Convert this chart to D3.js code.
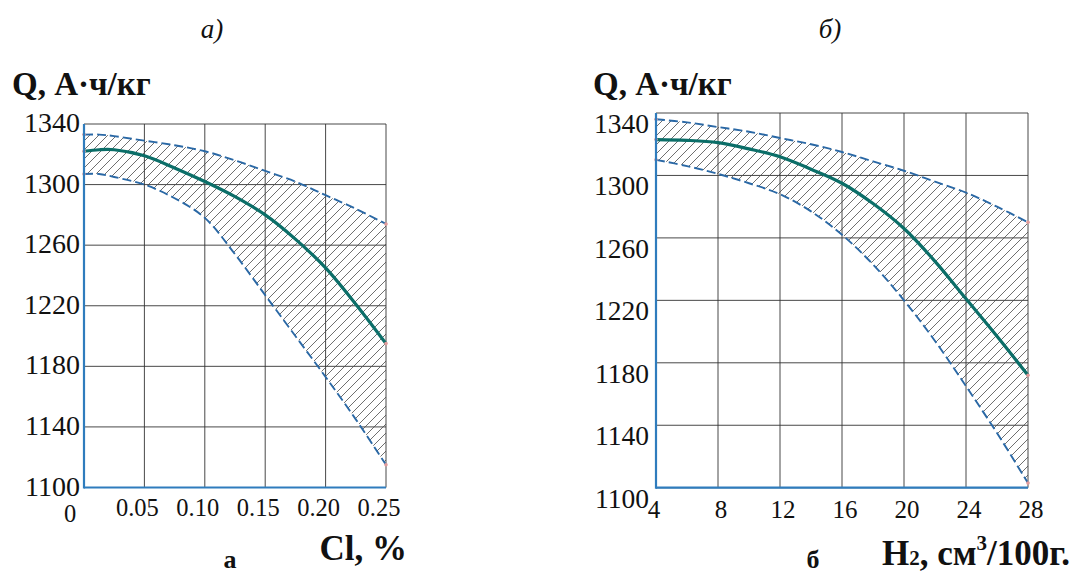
<!DOCTYPE html>
<html>
<head>
<meta charset="utf-8">
<script src="https://cdn.jsdelivr.net/npm/d3@7"></script>
<style>
  html, body { margin: 0; padding: 0; background: #fff; }
  svg { display: block; }
  text { font-family: "Liberation Serif", "Times New Roman", serif; fill: #111; }
</style>
</head>
<body>
<svg id="chart" width="1072" height="574"></svg>
<script>
// ---- Panel а: capacity vs chlorine content ----
const clPercent = [0, 0.0125, 0.025, 0.05, 0.075, 0.10, 0.125, 0.15, 0.175, 0.20, 0.225, 0.25];
const clMean    = [1322, 1323, 1323, 1319, 1311, 1302, 1292, 1280, 1264, 1245, 1221, 1195];
const clUpper   = [1333, 1333, 1332, 1329, 1326, 1322, 1316, 1309, 1302, 1293, 1284, 1274];
const clLower   = [1307, 1307, 1305, 1300, 1291, 1278, 1254, 1227, 1200, 1173, 1145, 1115];
const clTicks   = [0, 0.05, 0.10, 0.15, 0.20, 0.25];
const clTickLabels = ["0", "0.05", "0.10", "0.15", "0.20", "0.25"];

// ---- Panel б: capacity vs hydrogen content ----
const h2Content = [4, 6, 8, 10, 12, 14, 16, 18, 20, 22, 24, 26, 28];
const h2Mean    = [1323, 1322.5, 1321, 1317, 1312, 1304, 1295, 1282, 1266, 1245, 1221, 1197, 1172];
const h2Upper   = [1336, 1334, 1331, 1328, 1324, 1320, 1315, 1309, 1303, 1296, 1289, 1280, 1270];
const h2Lower   = [1310, 1306, 1301, 1295, 1288, 1277, 1262, 1243, 1220, 1194, 1165, 1135, 1103];
const h2Ticks   = [4, 8, 12, 16, 20, 24, 28];

// ---- Shared capacity axis ----
const qTicks = [1100, 1140, 1180, 1220, 1260, 1300, 1340];

const svg = d3.select("#chart");
const AXIS_BLUE = "#2f7cbd";
const CURVE_TEAL = "#0b6e68";
const DASH_BLUE = "#2a68a5";

// hatching used for the spread band
const defs = svg.append("defs");
const pat = defs.append("pattern")
  .attr("id", "hatch")
  .attr("patternUnits", "userSpaceOnUse")
  .attr("width", 9).attr("height", 9);
pat.append("path")
  .attr("d", "M-2,2 L2,-2 M0,9 L9,0 M7,11 L11,7")
  .attr("stroke", "#4a4a4a").attr("stroke-width", 0.8);

function panel(cfg) {
  const g = svg.append("g");
  const x = d3.scaleLinear().domain(cfg.xDomain).range([cfg.left, cfg.right]);
  const y = d3.scaleLinear().domain([1100, 1340]).range([cfg.bottom, cfg.top]);

  // grid
  g.append("g").selectAll("line").data(cfg.xTicks).join("line")
    .attr("x1", d => x(d)).attr("x2", d => x(d))
    .attr("y1", y(1100)).attr("y2", y(1340))
    .attr("stroke", "#333").attr("stroke-width", 0.9);
  g.append("g").selectAll("line").data(qTicks).join("line")
    .attr("x1", x(cfg.xDomain[0])).attr("x2", x(cfg.xDomain[1]))
    .attr("y1", d => y(d)).attr("y2", d => y(d))
    .attr("stroke", "#333").attr("stroke-width", 0.9);

  const pts = (vals) => cfg.xs.map((v, i) => [v, vals[i]]);
  const curve = d3.curveCatmullRom.alpha(0.5);
  const line = d3.line().x(d => x(d[0])).y(d => y(d[1])).curve(curve);
  const area = d3.area().x(d => x(d[0])).y0(d => y(d[1])).y1(d => y(d[2])).curve(curve);

  // hatched band between the bounds
  g.append("path")
    .datum(cfg.xs.map((v, i) => [v, cfg.lower[i], cfg.upper[i]]))
    .attr("d", area).attr("fill", "url(#hatch)");

  // bounds
  [cfg.upper, cfg.lower].forEach(vals => {
    g.append("path").datum(pts(vals)).attr("d", line)
      .attr("fill", "none").attr("stroke", DASH_BLUE)
      .attr("stroke-width", 1.9).attr("stroke-dasharray", "9,4");
  });
  // mean curve
  g.append("path").datum(pts(cfg.mean)).attr("d", line)
    .attr("fill", "none").attr("stroke", CURVE_TEAL).attr("stroke-width", 3.2);

  // end markers
  const ends = [];
  [cfg.upper, cfg.mean, cfg.lower].forEach(vals => {
    ends.push([cfg.xs[0], vals[0]]);
    ends.push([cfg.xs[cfg.xs.length - 1], vals[vals.length - 1]]);
  });
  g.append("g").selectAll("circle").data(ends).join("circle")
    .attr("cx", d => x(d[0])).attr("cy", d => y(d[1])).attr("r", 1.8)
    .attr("fill", "#e29a9a");

  // axes: left and bottom in blue
  g.append("line").attr("x1", x(cfg.xDomain[0])).attr("x2", x(cfg.xDomain[0]))
    .attr("y1", y(1100) + 1).attr("y2", y(1340))
    .attr("stroke", AXIS_BLUE).attr("stroke-width", 2.2);
  g.append("line").attr("x1", x(cfg.xDomain[0])).attr("x2", x(cfg.xDomain[1]))
    .attr("y1", y(1100)).attr("y2", y(1100))
    .attr("stroke", AXIS_BLUE).attr("stroke-width", 2.2);

  // y tick labels
  g.append("g").selectAll("text").data(qTicks).join("text")
    .attr("x", cfg.yLabelX).attr("y", d => y(d) + cfg.yLabelDy)
    .attr("text-anchor", "end").attr("font-size", cfg.yFont)
    .text(d => d);

  // x tick labels
  g.append("g").selectAll("text").data(cfg.xTicks).join("text")
    .attr("x", (d, i) => x(d) + cfg.xLabelDx(i))
    .attr("y", (d, i) => cfg.xLabelY(i))
    .attr("text-anchor", "middle").attr("font-size", cfg.xFont)
    .text((d, i) => cfg.xLabels[i]);

  // capacity title
  g.append("text").attr("x", cfg.titleX).attr("y", 95)
    .attr("font-size", 33).attr("font-weight", "bold")
    .text("Q, А·ч/кг");

  return { g, x, y };
}

// panel а
const pa = panel({
  xs: clPercent, mean: clMean, upper: clUpper, lower: clLower,
  xDomain: [0, 0.25], xTicks: clTicks, xLabels: clTickLabels,
  left: 84, right: 386, top: 124, bottom: 487.5,
  yLabelX: 80, yLabelDy: 8, yFont: 28,
  xLabelY: i => (i === 0 ? 522 : 516), xFont: 24.5,
  xLabelDx: i => (i === 0 ? -14 : -7),
  titleX: 12
});
pa.g.append("text").attr("x", 407).attr("y", 560).attr("text-anchor", "end")
  .attr("font-size", 35).attr("font-weight", "bold").text("Cl, %");
pa.g.append("text").attr("x", 230).attr("y", 568).attr("text-anchor", "middle")
  .attr("font-size", 26).attr("font-weight", "bold").text("а");
pa.g.append("text").attr("x", 212).attr("y", 38).attr("text-anchor", "middle")
  .attr("font-size", 27).attr("font-style", "italic").text("а)");

// panel б
const pb = panel({
  xs: h2Content, mean: h2Mean, upper: h2Upper, lower: h2Lower,
  xDomain: [4, 28], xTicks: h2Ticks, xLabels: h2Ticks.map(String),
  left: 656, right: 1028, top: 113, bottom: 487.7,
  yLabelX: 649, yLabelDy: 20, yFont: 27.5,
  xLabelY: () => 518, xFont: 25, xLabelDx: i => (i === 0 ? -2 : 3),
  titleX: 593
});
const h2Label = pb.g.append("text").attr("x", 1070).attr("y", 565).attr("text-anchor", "end")
  .attr("font-size", 35).attr("font-weight", "bold");
h2Label.append("tspan").text("H");
h2Label.append("tspan").attr("font-size", 21).text("2");
h2Label.append("tspan").text(", см");
h2Label.append("tspan").attr("font-size", 21).attr("dy", -15).text("3");
h2Label.append("tspan").attr("dy", 15).text("/100г.");
pb.g.append("text").attr("x", 813).attr("y", 568).attr("text-anchor", "middle")
  .attr("font-size", 26).attr("font-weight", "bold").text("б");
pb.g.append("text").attr("x", 830).attr("y", 38).attr("text-anchor", "middle")
  .attr("font-size", 27).attr("font-style", "italic").text("б)");
</script>
</body>
</html>
